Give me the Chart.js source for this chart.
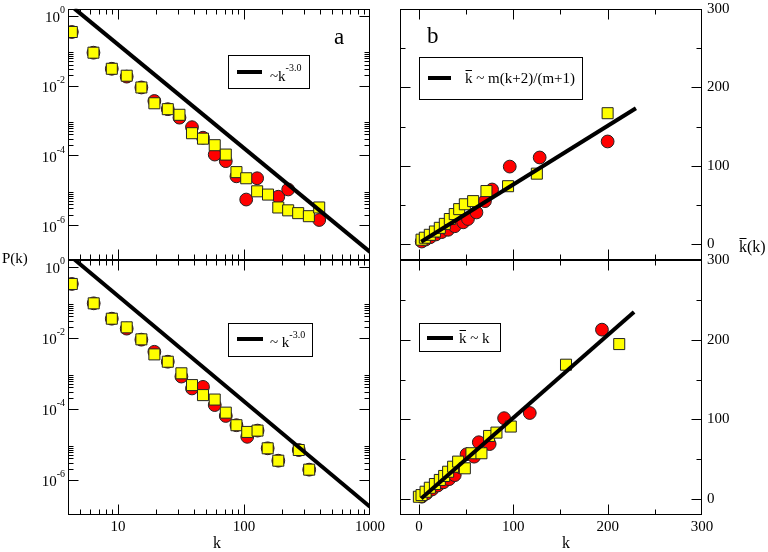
<!DOCTYPE html>
<html>
<head>
<meta charset="utf-8">
<title>P(k) e k medio</title>
<script src="https://cdn.jsdelivr.net/npm/chart.js@4.4.1/dist/chart.umd.min.js"></script>
<style>
  html, body { margin: 0; padding: 0; background: #fff; }
  #quadro { position: relative; width: 768px; height: 552px; overflow: hidden; }
  #quadro canvas { position: absolute; left: 0; top: 0; }
</style>
</head>
<body>
<div id="quadro">
  <canvas id="painelA1" width="768" height="552"></canvas>
  <canvas id="painelA2" width="768" height="552"></canvas>
  <canvas id="painelB1" width="768" height="552"></canvas>
  <canvas id="painelB2" width="768" height="552"></canvas>
</div>
<script>
// ---- valores ----

// painel a (topo): P(k), quadrados amarelos e circulos vermelhos
var kA1Quad = [4.29, 6.37, 8.91, 11.7, 15.3, 19.4, 24.8, 30.7, 38.6, 47.2, 58.5, 71.6, 87, 104, 127, 155, 187, 224, 269, 327, 395]
var pA1Quad = [0.342, 0.0873, 0.0302, 0.0191, 0.00879, 0.0031, 0.0021, 0.00145, 4.3e-4, 3.0e-4, 1.95e-4, 1.05e-4, 3.3e-5, 2.2e-5, 9.3e-6, 7.5e-6, 3.2e-6, 2.65e-6, 2.2e-6, 1.8e-6, 3.2e-6]
var kA1Circ = [4.29, 6.37, 8.91, 11.7, 15.3, 19.4, 24.8, 30.7, 38.6, 47.2, 58.5, 71.6, 87, 104, 127, 187, 224, 395]
var pA1Circ = [0.342, 0.0873, 0.0302, 0.018, 0.0088, 0.0036, 0.0021, 0.0012, 6.4e-4, 3.2e-4, 1.05e-4, 6.8e-5, 2.5e-5, 5.4e-6, 2.2e-5, 6.5e-6, 1.05e-5, 1.4e-6]

// painel a (baixo)
var kA2Quad = [4.29, 6.4, 8.91, 11.7, 15.3, 19.4, 24.8, 31.8, 38.6, 47.2, 58.5, 71.6, 87, 106, 128, 154, 187, 272, 329]
var pA2Quad = [0.327, 0.093, 0.0343, 0.0196, 0.00897, 0.00338, 0.0021, 9.9e-4, 4.6e-4, 2.4e-4, 1.8e-4, 7.7e-5, 3.4e-5, 2.2e-5, 2.4e-5, 7.6e-6, 3.4e-6, 6.8e-6, 1.9e-6]
var kA2Circ = [4.29, 6.4, 8.91, 11.7, 15.3, 19.4, 24.8, 31.8, 38.6, 47.2, 58.5, 71.6, 87, 106, 128, 154, 187, 272, 329]
var pA2Circ = [0.327, 0.093, 0.0343, 0.018, 0.0088, 0.004, 0.0021, 8e-4, 3.7e-4, 4.1e-4, 1.26e-4, 6.2e-5, 3.4e-5, 1.6e-5, 2.4e-5, 7.6e-6, 3.4e-6, 6.8e-6, 1.9e-6]

// reta ~k^-3.0 (extremos)
var retaAK = [4.5, 1000]
var retaAP = [1.6, 1.7e-7]

// painel b (topo): k medio
var kB1Quad = [2.8, 6.3, 11.6, 17, 22.2, 27.5, 32.8, 38, 42.7, 48.7, 57.5, 71.6, 94.5, 125, 200]
var mB1Quad = [5.9, 8.4, 12.1, 16.3, 21, 26, 32.2, 38.5, 44.8, 51, 55, 67.8, 74, 90, 167]
var kB1Circ = [3, 7, 12, 18, 24, 31, 38, 47, 52, 61, 70, 77.6, 96.3, 128, 200]
var mB1Circ = [3.5, 6, 9, 12.5, 15.5, 18.5, 23, 28, 32.2, 40.6, 55, 69.8, 99, 110.6, 131]
var retaB1K = [2.5, 230]
var retaB1M = [3.3, 173.3]

// painel b (baixo)
var kB2Quad = [0, 2.8, 7.1, 11.6, 17, 22.2, 26.8, 31, 36.3, 41.6, 48.7, 55.7, 66.3, 74.4, 82.2, 97.4, 155.9, 212.3]
var mB2Quad = [2.9, 5, 9.2, 14.2, 18.9, 24, 29, 34.3, 40.6, 47, 38.6, 57.5, 57.5, 79.2, 83.4, 91, 168.6, 194.5]
var kB2Circ = [3, 8, 14, 20, 26, 32, 38, 44, 50.5, 58.5, 63.5, 75, 90.3, 117.5, 194]
var mB2Circ = [3, 7, 12, 17, 21, 25, 30, 40, 56.2, 53.2, 71.3, 69, 101.5, 108, 212.6]
var retaB2K = [2.5, 228]
var retaB2M = [0.8, 234.8]

// marcas dos eixos
var ticksLogX = [10, 100, 1000]
var ticksLogY = [1, 1e-2, 1e-4, 1e-6]
var ticksLin = [0, 100, 200, 300]
var menoresLin = [50, 150, 250]

// textos
var legendaA1 = ['~k', '-3.0']
var legendaA2 = ['~ k', '-3.0']
var legendaB1 = ['k', ' ~ m(k+2)/(m+1)']
var legendaB2 = ['k', ' ~ k']
var tituloP = 'P(k)'
var tituloK = 'k'
var tituloKm = ['k', '(k)']

var FONTE = "'Liberation Serif', 'DejaVu Serif', 'Times New Roman', serif";
Chart.defaults.font.family = FONTE;
Chart.defaults.font.size = 15;
Chart.defaults.color = '#000';

function pares(xs, ys){
    return xs.map(function(v, i){ return {x: v, y: ys[i]} });
}

// menores do eixo log: 2..9 vezes cada decada
function menoresLog(decadas){
    var r = [];
    decadas.forEach(function(d){
        for (var m = 2; m <= 9; m++) r.push(m * Math.pow(10, d));
    });
    return r;
}

// tamanho fixo dos eixos, o resto da margem vem do padding
var ALTURA_EIXO = 30, LARGURA_EIXO = 60;
function tamanhoFixo(s){
    if (s.isHorizontal()) s.height = ALTURA_EIXO;
    else s.width = LARGURA_EIXO;
    s.paddingTop = 0; s.paddingBottom = 0; s.paddingLeft = 0; s.paddingRight = 0;
}

// texto com pedacos: [texto, tamanho, subida, barra]
function textoRico(ctx, x, y, partes){
    partes.forEach(function(p){
        ctx.font = p[1] + 'px ' + FONTE;
        var w = ctx.measureText(p[0]).width;
        ctx.fillText(p[0], x, y - (p[2] || 0));
        if (p[3]){
            var yb = Math.round(y - p[1] * 0.86) + 0.5;
            ctx.lineWidth = 1;
            ctx.beginPath();
            ctx.moveTo(x + 0.5, yb);
            ctx.lineTo(x + w - 0.5, yb);
            ctx.stroke();
        }
        x += w;
    });
    return x;
}

function larguraRica(ctx, partes){
    var w = 0;
    partes.forEach(function(p){
        ctx.font = p[1] + 'px ' + FONTE;
        w += ctx.measureText(p[0]).width;
    });
    return w;
}

var pluginPainel = {
    id: 'painel',
    afterDatasetsDraw: function(chart, args, o){
        var ctx = chart.ctx, a = chart.chartArea;
        var sx = chart.scales.x, sy = chart.scales.y;
        var L = Math.round(a.left) + 0.5, T = Math.round(a.top) + 0.5;
        var R = Math.round(a.right) - 0.5, B = Math.round(a.bottom) - 0.5;
        ctx.save();
        ctx.strokeStyle = '#000';
        ctx.fillStyle = '#000';
        ctx.lineWidth = 1;
        ctx.strokeRect(L, T, R - L, B - T);

        //marcas para dentro nos quatro lados
        ctx.beginPath();
        function marcaX(v, tam){
            var p = Math.round(sx.getPixelForValue(v)) + 0.5;
            if (p < L || p > R) return;
            ctx.moveTo(p, B); ctx.lineTo(p, B - tam);
            ctx.moveTo(p, T); ctx.lineTo(p, T + tam);
        }
        function marcaY(v, tam){
            var p = Math.round(sy.getPixelForValue(v)) + 0.5;
            if (p < T || p > B) return;
            ctx.moveTo(L, p); ctx.lineTo(L + tam, p);
            ctx.moveTo(R, p); ctx.lineTo(R - tam, p);
        }
        o.xMaior.forEach(function(v){ marcaX(v, 10) });
        o.xMenor.forEach(function(v){ marcaX(v, 5) });
        o.yMaior.forEach(function(v){ marcaY(v, 10) });
        o.yMenor.forEach(function(v){ marcaY(v, 5) });
        ctx.stroke();

        ctx.textAlign = 'left';
        ctx.textBaseline = 'alphabetic';

        //rotulos 10^n do eixo log, com expoente elevado
        if (o.rotulosPot){
            o.yMaior.forEach(function(v){
                var py = sy.getPixelForValue(v);
                var partes = [['10', 15, 0], [String(Math.round(Math.log10(v))), 10, 9]];
                var w = larguraRica(ctx, partes);
                textoRico(ctx, a.left - 3 - w, py + 6.5, partes);
            });
        }

        //legenda
        var lg = o.legenda;
        ctx.lineWidth = 1;
        ctx.strokeRect(lg.caixa[0] + 0.5, lg.caixa[1] + 0.5, lg.caixa[2] - lg.caixa[0], lg.caixa[3] - lg.caixa[1]);
        ctx.lineWidth = 4;
        ctx.beginPath();
        ctx.moveTo(lg.linha[0], lg.linha[2]);
        ctx.lineTo(lg.linha[1], lg.linha[2]);
        ctx.stroke();
        textoRico(ctx, lg.x, lg.y, lg.partes);

        //outros textos
        var textos = o.textos || [];
        textos.forEach(function(t){
            textoRico(ctx, t.x, t.y, t.partes);
        });
        ctx.restore();
    }
};

function criaPainel(id, cfg){
    var logY = cfg.tipoY === 'logarithmic';
    cfg.deco.rotulosPot = logY;
    return new Chart(document.getElementById(id), {
        type: 'scatter',
        data: {
            datasets: [
                { data: cfg.reta, showLine: true, borderColor: '#000', borderWidth: 4, pointRadius: 0, order: 0 },
                { data: cfg.quad, pointStyle: 'rect', pointRadius: 7.8, backgroundColor: '#ffff00', borderColor: '#222', borderWidth: 1, order: 1 },
                { data: cfg.circ, pointStyle: 'circle', pointRadius: 6.4, backgroundColor: '#ff0000', borderColor: '#222', borderWidth: 1, order: 2 }
            ]
        },
        options: {
            responsive: false,
            animation: false,
            events: [],
            layout: { padding: cfg.area },
            plugins: {
                legend: { display: false },
                tooltip: { enabled: false },
                painel: cfg.deco
            },
            scales: {
                x: {
                    type: cfg.tipoX, min: cfg.xMin, max: cfg.xMax, position: 'bottom',
                    grid: { display: false, drawTicks: false }, border: { display: false },
                    ticks: {
                        display: cfg.rotulosX, padding: 3, autoSkip: false, maxRotation: 0,
                        callback: function(v){ return String(v) }
                    },
                    afterBuildTicks: function(s){ s.ticks = cfg.deco.xMaior.map(function(v){ return {value: v} }) },
                    afterFit: tamanhoFixo
                },
                y: {
                    type: cfg.tipoY, min: cfg.yMin, max: cfg.yMax, position: cfg.ladoY,
                    grid: { display: false, drawTicks: false }, border: { display: false },
                    ticks: {
                        display: !logY, padding: 5, autoSkip: false,
                        callback: function(v){ return String(v) }
                    },
                    afterBuildTicks: function(s){ s.ticks = cfg.deco.yMaior.map(function(v){ return {value: v} }) },
                    afterFit: tamanhoFixo
                }
            }
        },
        plugins: [pluginPainel]
    });
}

var menLogX = menoresLog([0, 1, 2]);
var menLogY = menoresLog([-8, -6, -4, -2, 0]);

// margens: area do grafico = padding + eixo fixo
criaPainel('painelA1', {
    tipoX: 'logarithmic', xMin: 4, xMax: 1000, tipoY: 'logarithmic', yMin: 1e-7, yMax: 1.58,
    ladoY: 'left', rotulosX: false,
    area: { left: 68 - LARGURA_EIXO, top: 5, right: 398, bottom: 292 - ALTURA_EIXO },
    reta: pares(retaAK, retaAP), quad: pares(kA1Quad, pA1Quad), circ: pares(kA1Circ, pA1Circ),
    deco: {
        xMaior: ticksLogX, xMenor: menLogX, yMaior: ticksLogY, yMenor: menLogY,
        legenda: { caixa: [228, 55, 309, 88], linha: [237, 262, 72], x: 270, y: 81,
                   partes: [[legendaA1[0], 15, 0], [legendaA1[1], 10, 10]] },
        textos: [ { x: 334, y: 44, partes: [['a', 23, 0]] } ]
    }
});

criaPainel('painelA2', {
    tipoX: 'logarithmic', xMin: 4, xMax: 1000, tipoY: 'logarithmic', yMin: 1e-7, yMax: 1.55,
    ladoY: 'left', rotulosX: true,
    area: { left: 68 - LARGURA_EIXO, top: 260, right: 398, bottom: 37 - ALTURA_EIXO },
    reta: pares(retaAK, retaAP), quad: pares(kA2Quad, pA2Quad), circ: pares(kA2Circ, pA2Circ),
    deco: {
        xMaior: ticksLogX, xMenor: menLogX, yMaior: ticksLogY, yMenor: menLogY,
        legenda: { caixa: [228, 323, 312, 356], linha: [237, 263, 339], x: 270, y: 347,
                   partes: [[legendaA2[0], 15, 0], [legendaA2[1], 10, 9]] },
        textos: [
            { x: 2, y: 263, partes: [[tituloP, 15, 0]] },
            { x: 213, y: 548, partes: [[tituloK, 16, 0]] }
        ]
    }
});

criaPainel('painelB1', {
    tipoX: 'linear', xMin: -20, xMax: 300, tipoY: 'linear', yMin: -20, yMax: 300,
    ladoY: 'right', rotulosX: false,
    area: { left: 400, top: 5, right: 66 - LARGURA_EIXO, bottom: 292 - ALTURA_EIXO },
    reta: pares(retaB1K, retaB1M), quad: pares(kB1Quad, mB1Quad), circ: pares(kB1Circ, mB1Circ),
    deco: {
        xMaior: ticksLin, xMenor: menoresLin, yMaior: ticksLin, yMenor: menoresLin,
        legenda: { caixa: [419, 57, 582, 99], linha: [428, 451, 78], x: 465, y: 83,
                   partes: [[legendaB1[0], 15, 0, true], [legendaB1[1], 15, 0]] },
        textos: [ { x: 427, y: 43, partes: [['b', 23, 0]] } ]
    }
});

criaPainel('painelB2', {
    tipoX: 'linear', xMin: -20, xMax: 300, tipoY: 'linear', yMin: -20, yMax: 300,
    ladoY: 'right', rotulosX: true,
    area: { left: 400, top: 260, right: 66 - LARGURA_EIXO, bottom: 37 - ALTURA_EIXO },
    reta: pares(retaB2K, retaB2M), quad: pares(kB2Quad, mB2Quad), circ: pares(kB2Circ, mB2Circ),
    deco: {
        xMaior: ticksLin, xMenor: menoresLin, yMaior: ticksLin, yMenor: menoresLin,
        legenda: { caixa: [419, 323, 500, 351], linha: [427, 453, 338], x: 459, y: 343,
                   partes: [[legendaB2[0], 15, 0, true], [legendaB2[1], 15, 0]] },
        textos: [
            { x: 739, y: 252, partes: [[tituloKm[0], 16, 0, true], [tituloKm[1], 16, 0]] },
            { x: 562, y: 548, partes: [[tituloK, 16, 0]] }
        ]
    }
});
</script>
</body>
</html>
